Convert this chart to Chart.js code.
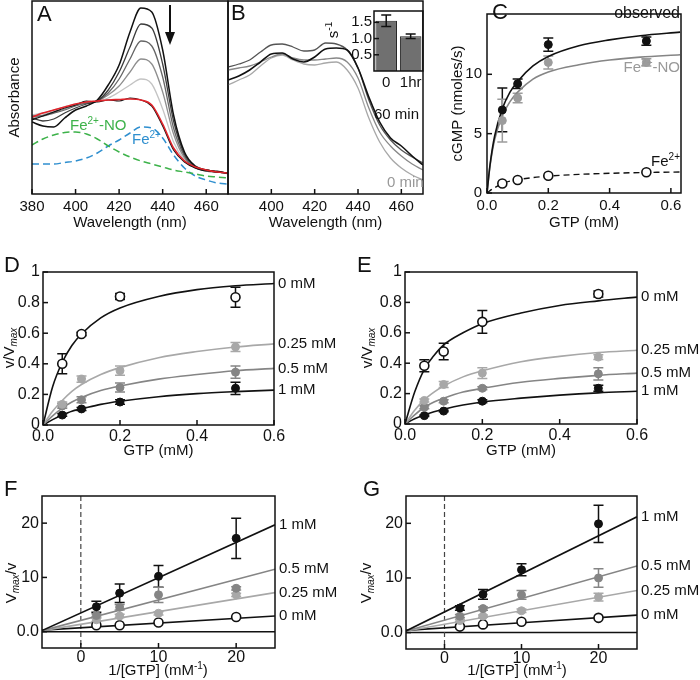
<!DOCTYPE html>
<html>
<head>
<meta charset="utf-8">
<title>sGC spectra and kinetics</title>
<script src="https://cdn.jsdelivr.net/npm/chart.js@4.4.1/dist/chart.umd.min.js"></script>
<style>
  html, body { margin: 0; padding: 0; background: #fff; }
  #fig { position: relative; width: 700px; height: 680px; overflow: hidden; }
  #fig canvas { position: absolute; }
</style>
</head>
<body>
<div id="fig">
  <canvas id="panelA" width="230" height="235" style="left:0;top:0"></canvas>
  <canvas id="panelB" width="200" height="235" style="left:226px;top:0"></canvas>
  <canvas id="panelBInset" width="100" height="92" style="left:325px;top:0"></canvas>
  <canvas id="panelC" width="260" height="235" style="left:440px;top:0"></canvas>
  <canvas id="panelD" width="350" height="205" style="left:0;top:255px"></canvas>
  <canvas id="panelE" width="350" height="205" style="left:350px;top:255px"></canvas>
  <canvas id="panelF" width="350" height="202" style="left:0;top:478px"></canvas>
  <canvas id="panelG" width="350" height="202" style="left:350px;top:478px"></canvas>
</div>
<script>
// ---- data ----
const wavelengths = [380, 385, 390, 395, 400, 405, 410, 415, 420, 425, 430, 435, 440, 445, 450, 455, 460, 465, 470];

// panel A, absorbance (a.u.), time course after NO removal
const absT0 = [72, 68, 67, 76, 84, 88, 94, 109, 129, 162, 186, 182, 144, 79, 42, 28, 24, 22, 21];
const absT1 = [76, 73, 75, 81, 86, 90, 93, 104, 122, 147, 170, 166, 130, 73, 40, 27, 24, 22, 21];
const absT2 = [78, 78, 81, 84, 88, 91, 93, 101, 115, 135, 153, 148, 117, 66, 38, 26, 24, 22, 21];
const absT3 = [75, 79, 82, 85, 89, 91, 93, 99, 108, 122, 135, 130, 102, 60, 36, 26, 23, 22, 21];
const absT4 = [79, 81, 84, 87, 90, 92, 93, 96, 102, 109, 115, 110, 85, 52, 34, 26, 23, 22, 21];
const absEnd = [74, 78, 82, 86, 89, 93, 92, 94, 93, 96, 94, 88, 68, 44, 32, 26, 23, 23, 20];
const absFit = [77, 81, 84, 87, 90, 92, 93, 94, 94.5, 95, 94, 89, 70, 46, 33, 27, 24, 22, 21];
const absFeNO = [49, 55, 59, 61.5, 62, 60, 55, 48, 42, 37, 33, 30, 27, 24, 22, 20, 18, 17, 16];
const absFe2 = [30, 30, 30, 31.5, 33, 36, 41, 48, 54, 61, 67, 66, 56, 39, 26, 18, 14, 11, 10];

// panel B, 0 to 60 min
const specB60 = [114, 118, 124, 132, 140, 141, 135, 132, 137, 145, 146, 144, 126, 97, 72, 56, 48, 38, 29];
const specB40 = [127, 130, 134, 142, 149, 150, 147, 143, 144, 151, 150, 144, 126, 94, 69, 54, 44, 37, 31];
const specB20 = [124, 126, 128, 132, 137, 140, 136, 134, 134, 135, 136, 132, 116, 86, 62, 48, 38, 30, 24];
const specB0 = [109, 114, 119, 128, 136, 139, 134, 130, 129, 131, 132, 124, 106, 76, 52, 36, 26, 19, 14];

// inset of B
const insetLabels = ['0', '1hr'];
const insetRate = [1.55, 1.07];
const insetErr = [0.18, 0.07];

// panel C
const gtpC = [0.05, 0.1, 0.2, 0.52];
const obsC = [7.0, 9.2, 12.5, 12.8];
const obsErrC = [1.85, 0.4, 0.55, 0.35];
const noC = [6.1, 8.0, 11.0, 11.0];
const noErrC = [1.8, 0.4, 0.55, 0.3];
const fe2C = [0.8, 1.1, 1.45, 1.75];
const fitGtpC = [0, 0.01, 0.025, 0.05, 0.075, 0.1, 0.15, 0.2, 0.3, 0.4, 0.5, 0.63];
const obsFitC = [0, 2.4, 4.8, 7.1, 8.5, 9.4, 10.7, 11.5, 12.4, 12.9, 13.25, 13.55];
const noFitC = [0, 2.3, 4.5, 6.5, 7.7, 8.5, 9.6, 10.2, 10.8, 11.2, 11.45, 11.65];
const fe2FitC = [0, 0.2, 0.45, 0.8, 1.0, 1.12, 1.3, 1.42, 1.57, 1.66, 1.72, 1.77];

// panels D / E : v/Vmax vs GTP
const gtp = [0.05, 0.1, 0.2, 0.5];
const fitGtp = [0, 0.025, 0.05, 0.075, 0.1, 0.15, 0.2, 0.3, 0.4, 0.5, 0.6];
const inhibLabels = ['0 mM', '0.25 mM', '0.5 mM', '1 mM'];

const d0 = [0.40, 0.595, 0.84, 0.835], d0Err = [0.065, 0.012, 0.02, 0.065];
const d025 = [0.135, 0.30, 0.355, 0.51], d025Err = [0.015, 0.02, 0.03, 0.03];
const d05 = [0.125, 0.165, 0.245, 0.345], d05Err = [0.015, 0.02, 0.03, 0.04];
const d1 = [0.065, 0.105, 0.15, 0.24], d1Err = [0.008, 0.01, 0.015, 0.04];
const dFit0 = [0, 0.25, 0.41, 0.52, 0.595, 0.70, 0.765, 0.84, 0.885, 0.91, 0.925];
const dFit025 = [0, 0.09, 0.16, 0.22, 0.265, 0.33, 0.375, 0.44, 0.48, 0.51, 0.53];
const dFit05 = [0, 0.06, 0.11, 0.15, 0.18, 0.225, 0.255, 0.30, 0.33, 0.355, 0.37];
const dFit1 = [0, 0.035, 0.065, 0.09, 0.105, 0.135, 0.155, 0.185, 0.205, 0.218, 0.228];

const e0 = [0.383, 0.477, 0.672, 0.855], e0Err = [0.04, 0.055, 0.075, 0.02];
const e025 = [0.155, 0.26, 0.335, 0.44], e025Err = [0.01, 0.02, 0.035, 0.015];
const e05 = [0.11, 0.15, 0.235, 0.33], e05Err = [0.01, 0.01, 0.01, 0.04];
const e1 = [0.055, 0.085, 0.15, 0.235], e1Err = [0.005, 0.005, 0.01, 0.02];
const eFit0 = [0, 0.21, 0.36, 0.45, 0.52, 0.60, 0.66, 0.73, 0.78, 0.81, 0.835];
const eFit025 = [0, 0.09, 0.16, 0.21, 0.25, 0.31, 0.35, 0.41, 0.445, 0.47, 0.485];
const eFit05 = [0, 0.06, 0.11, 0.145, 0.17, 0.21, 0.235, 0.275, 0.30, 0.32, 0.335];
const eFit1 = [0, 0.035, 0.06, 0.08, 0.097, 0.125, 0.145, 0.17, 0.19, 0.205, 0.215];

// panels F / G : double reciprocal
const invGtp = [2, 5, 10, 20];
const lineInvGtp = [-5, 25];
const f1 = [4.6, 7.1, 10.2, 17.2], f1Err = [1.0, 1.7, 2.0, 3.7];
const f05 = [3.0, 4.5, 6.8, 8.0], f05Err = [0.3, 0.5, 1.4, 0.3];
const f025 = [2.2, 2.9, 3.4, 6.8], f025Err = [0.3, 0.3, 0.3, 0.3];
const f0 = [1.2, 1.2, 1.7, 2.7];
const fLine1 = [0.2, 19.7], fLine05 = [0.2, 11.5], fLine025 = [0.2, 7.2], fLine0 = [0.3, 2.9];

const g1 = [4.5, 7.0, 11.5, 19.9], g1Err = [0.4, 0.9, 1.1, 3.4];
const g05 = [3.0, 4.4, 6.9, 10.0], g05Err = [0.3, 0.3, 0.8, 1.7];
const g025 = [2.2, 3.0, 4.0, 6.5], g025Err = [0.2, 0.2, 0.3, 0.7];
const g0 = [1.1, 1.5, 2.0, 2.7];
const gLine1 = [0.3, 21.2], gLine05 = [0.3, 12.2], gLine025 = [0.3, 7.7], gLine0 = [0.4, 3.2];

// ---- styling helpers ----
const FONT = "'Liberation Sans', Arial, Helvetica, sans-serif";
const INK = '#111';
const GRAY_L = '#a8a8a8';
const GRAY_M = '#858585';
Chart.defaults.font.family = FONT;
Chart.defaults.color = INK;

const pts = (xs, ys) => xs.map((x, i) => ({ x, y: ys[i] }));

function curve(xs, ys, color, width, extra) {
  return Object.assign({
    data: pts(xs, ys), showLine: true, pointRadius: 0, borderColor: color,
    borderWidth: width || 1.4, cubicInterpolationMode: 'monotone', fill: false
  }, extra || {});
}

function markers(xs, ys, errs, color, open) {
  return {
    data: pts(xs, ys), showLine: false, pointRadius: open ? 4.5 : 4,
    pointBackgroundColor: open ? '#fff' : color, pointBorderColor: open ? INK : color,
    pointBorderWidth: open ? 1.6 : 1, errors: errs, errorColor: open ? INK : color
  };
}

function axis(min, max, ticks, size, fmt, o) {
  o = o || {};
  return {
    type: 'linear', min, max,
    afterBuildTicks: s => { s.ticks = ticks.map(v => ({ value: v })); },
    afterFit: s => { if (s.isHorizontal()) s.height = size; else s.width = size; },
    grid: { display: false, drawTicks: false },
    border: { display: false },
    ticks: { padding: o.pad ?? 4, font: { size: o.fs || 15 }, color: INK, maxRotation: 0, autoSkip: false, callback: v => fmt(v) },
    title: o.title ? { display: true, text: o.title, color: INK, font: { size: o.tfs || 15 }, padding: o.tpad || 0 } : { display: false }
  };
}

function options(padding, x, y, frame) {
  return {
    responsive: false, animation: false, devicePixelRatio: 1, events: [],
    layout: { padding },
    scales: { x, y },
    plugins: { legend: { display: false }, tooltip: { enabled: false }, frame: frame || {} }
  };
}

// box around the plot area with inward tick marks
Chart.register({
  id: 'frame',
  afterDatasetsDraw(chart, args, o) {
    const { ctx, chartArea: a } = chart;
    ctx.save();
    ctx.strokeStyle = INK;
    ctx.lineWidth = 1.5;
    ctx.strokeRect(a.left, a.top, a.right - a.left, a.bottom - a.top);
    ['x', 'y'].forEach(id => {
      const sc = chart.scales[id];
      if (!sc || (id === 'x' && o.noXMarks)) return;
      sc.ticks.forEach(t => {
        const p = sc.getPixelForValue(t.value);
        ctx.beginPath();
        if (id === 'x') { ctx.moveTo(p, a.bottom); ctx.lineTo(p, a.bottom - 5); }
        else { ctx.moveTo(a.left, p); ctx.lineTo(a.left + 5, p); }
        ctx.stroke();
      });
    });
    ctx.restore();
  }
});

// vertical error bars from dataset.errors
function drawErrors(chart, onTop) {
  const ctx = chart.ctx;
  chart.data.datasets.forEach((ds, i) => {
    if (!ds.errors || !!ds.errorsOnTop !== onTop) return;
    const meta = chart.getDatasetMeta(i);
    const ys = chart.scales[meta.yAxisID];
    ctx.save();
    ctx.strokeStyle = ds.errorColor || INK;
    ctx.lineWidth = 1.5;
    meta.data.forEach((el, j) => {
      const e = ds.errors[j];
      if (!e) return;
      const raw = ds.data[j];
      const v = typeof raw === 'object' ? raw.y : raw;
      const top = ys.getPixelForValue(v + e), bot = ys.getPixelForValue(v - e);
      ctx.beginPath();
      ctx.moveTo(el.x, top); ctx.lineTo(el.x, bot);
      ctx.moveTo(el.x - 5, top); ctx.lineTo(el.x + 5, top);
      ctx.moveTo(el.x - 5, bot); ctx.lineTo(el.x + 5, bot);
      ctx.stroke();
    });
    ctx.restore();
  });
}
Chart.register({
  id: 'errbars',
  beforeDatasetsDraw(chart) { drawErrors(chart, false); },
  afterDatasetsDraw(chart) { drawErrors(chart, true); }
});

// series labels at the right end of a fit line
Chart.register({
  id: 'endLabels',
  afterDraw(chart) {
    const { ctx, chartArea: a } = chart;
    chart.data.datasets.forEach((ds, i) => {
      if (!ds.endLabel) return;
      const last = ds.data[ds.data.length - 1];
      const y = chart.scales[chart.getDatasetMeta(i).yAxisID].getPixelForValue(last.y);
      ctx.save();
      ctx.font = '15px ' + FONT;
      ctx.fillStyle = INK;
      ctx.textAlign = 'left';
      ctx.textBaseline = 'middle';
      ctx.fillText(ds.endLabel, a.right + 4, y);
      ctx.restore();
    });
  }
});

function drawRich(ctx, it) {
  const size = it.size || 15;
  const segs = it.segs || [{ t: it.text }];
  const parts = segs.map(s => {
    const small = s.sup || s.sub;
    const font = (s.it ? 'italic ' : '') + (small ? Math.round(size * 0.65) : size) + 'px ' + FONT;
    ctx.font = font;
    return { t: s.t, font, w: ctx.measureText(s.t).width, dy: s.sup ? -size * 0.33 : s.sub ? size * 0.3 : 0 };
  });
  const total = parts.reduce((acc, p) => acc + p.w, 0);
  let x = it.align === 'center' ? -total / 2 : it.align === 'right' ? -total : 0;
  ctx.fillStyle = it.color || INK;
  ctx.textAlign = 'left';
  ctx.textBaseline = 'middle';
  parts.forEach(p => { ctx.font = p.font; ctx.fillText(p.t, x, p.dy); x += p.w; });
}

function notes(items) {
  return {
    id: 'notes',
    afterDraw(chart) {
      const ctx = chart.ctx;
      items.forEach(it => {
        ctx.save();
        if (it.arrow) {
          ctx.strokeStyle = INK; ctx.fillStyle = INK; ctx.lineWidth = 2;
          ctx.beginPath(); ctx.moveTo(it.px, it.py); ctx.lineTo(it.px, it.py2 - 8); ctx.stroke();
          ctx.beginPath();
          ctx.moveTo(it.px - 5, it.py2 - 13); ctx.lineTo(it.px + 5, it.py2 - 13); ctx.lineTo(it.px, it.py2);
          ctx.closePath(); ctx.fill();
        } else {
          ctx.translate(it.px, it.py);
          if (it.rot) ctx.rotate(it.rot * Math.PI / 180);
          drawRich(ctx, it);
        }
        ctx.restore();
      });
    }
  };
}

function zeroLines() {
  return {
    id: 'zeroLines',
    beforeDatasetsDraw(chart) {
      const { ctx, chartArea: a, scales } = chart;
      const x0 = scales.x.getPixelForValue(0), y0 = scales.y.getPixelForValue(0);
      ctx.save();
      ctx.strokeStyle = INK; ctx.lineWidth = 1.5;
      ctx.beginPath(); ctx.moveTo(a.left, y0); ctx.lineTo(a.right, y0); ctx.stroke();
      ctx.strokeStyle = '#444'; ctx.lineWidth = 1.2; ctx.setLineDash([5, 3]);
      ctx.beginPath(); ctx.moveTo(x0, a.top); ctx.lineTo(x0, a.bottom); ctx.stroke();
      ctx.restore();
    }
  };
}

const fmt1 = v => v.toFixed(1);
const fmtInt = v => String(v);
const fmtFrac = v => (v === 0 || v === 1) ? String(v) : v.toFixed(1);
const fmtRecip = v => v === 0 ? '0.0' : String(v);
const fe2Segs = [{ t: 'Fe' }, { t: '2+', sup: true }];
const feNOSegs = [{ t: 'Fe' }, { t: '2+', sup: true }, { t: '-NO' }];

// ---- A ----
new Chart(document.getElementById('panelA'), {
  type: 'scatter',
  data: { datasets: [
    curve(wavelengths, absFit, '#e2232a', 1.6),
    curve(wavelengths, absEnd, INK, 1.2),
    curve(wavelengths, absT0, INK, 1.5),
    curve(wavelengths, absT1, '#3c3c3c', 1.3),
    curve(wavelengths, absT2, '#666', 1.3),
    curve(wavelengths, absT3, '#8e8e8e', 1.3),
    curve(wavelengths, absT4, '#c4c4c4', 1.3),
    curve(wavelengths, absFeNO, '#3db24a', 1.5, { borderDash: [7, 4] }),
    curve(wavelengths, absFe2, '#2f8fcf', 1.5, { borderDash: [7, 4] })
  ] },
  options: options({ top: 1, right: 2, left: 0, bottom: 0 },
    axis(380, 470, [380, 400, 420, 440, 460], 41, fmtInt, { title: 'Wavelength (nm)', pad: 4, tpad: { bottom: 3 } }),
    axis(0, 193, [], 32, fmtInt, { title: 'Absorbance', tpad: { top: 6 } })),
  plugins: [notes([
    { px: 37, py: 15, size: 22, text: 'A' },
    { px: 70, py: 126, segs: feNOSegs, color: '#3db24a' },
    { px: 132, py: 140, segs: fe2Segs, color: '#2f8fcf' },
    { arrow: true, px: 170, py: 5, py2: 45 }
  ])]
});

// ---- B ----
new Chart(document.getElementById('panelB'), {
  type: 'scatter',
  data: { datasets: [
    curve(wavelengths, specB60, INK, 1.6),
    curve(wavelengths, specB40, '#555', 1.3),
    curve(wavelengths, specB20, '#888', 1.3),
    curve(wavelengths, specB0, '#a8a8a8', 1.3)
  ] },
  options: options({ top: 1, right: 3, left: 2, bottom: 0 },
    axis(380, 470, [400, 420, 440, 460], 41, fmtInt, { title: 'Wavelength (nm)', pad: 4, tpad: { bottom: 3 } }),
    Object.assign(axis(0, 193, [], 0, fmtInt), { display: false })),
  plugins: [notes([
    { px: 5, py: 14, size: 22, text: 'B' },
    { px: 148, py: 115, text: '60 min', size: 15 },
    { px: 161, py: 183, text: '0 min', size: 15, color: '#999' }
  ])]
});

// ---- B inset ----
new Chart(document.getElementById('panelBInset'), {
  type: 'bar',
  data: { labels: insetLabels, datasets: [{
    data: insetRate, errors: insetErr, errorsOnTop: true, errorColor: INK,
    backgroundColor: '#707070', borderColor: '#222', borderWidth: 1,
    barPercentage: 0.88, categoryPercentage: 1
  }] },
  options: options({ top: 1, right: 2, left: 0, bottom: 0 },
    { type: 'category', afterFit: s => { s.height = 21; }, grid: { display: false, drawTicks: false }, border: { display: false },
      ticks: { padding: 3, font: { size: 15 }, color: INK, maxRotation: 0, minRotation: 0, autoSkip: false } },
    axis(0, 1.85, [0.5, 1.0, 1.5], 49, fmt1, { pad: 2 }),
    { noXMarks: true }),
  plugins: [notes([
    { px: 9, py: 30, rot: -90, align: 'center', segs: [{ t: 's' }, { t: '-1', sup: true }] }
  ])]
});

// ---- C ----
new Chart(document.getElementById('panelC'), {
  type: 'scatter',
  data: { datasets: [
    markers(gtpC, obsC, obsErrC, INK, false),
    markers(gtpC, noC, noErrC, '#9c9c9c', false),
    markers(gtpC, fe2C, null, INK, true),
    curve(fitGtpC, obsFitC, INK, 1.6),
    curve(fitGtpC, noFitC, GRAY_M, 1.6),
    curve(fitGtpC, fe2FitC, INK, 1.4, { borderDash: [6, 4] })
  ] },
  options: options({ top: 1, right: 19, left: 0, bottom: 0 },
    axis(0, 0.633, [0, 0.2, 0.4, 0.6], 42, fmt1, { title: 'GTP (mM)', pad: 4, tpad: { bottom: 3 } }),
    axis(0, 15.08, [0, 5, 10], 47, fmtInt, { title: 'cGMP (nmoles/s)', pad: 5, tpad: { top: 9 } })),
  plugins: [notes([
    { px: 52, py: 13, size: 22, text: 'C' },
    { px: 240, py: 14, size: 16, text: 'observed', align: 'right' },
    { px: 240, py: 68, segs: feNOSegs, color: '#999', align: 'right' },
    { px: 240, py: 162, segs: fe2Segs, align: 'right' }
  ])]
});

// ---- D / E ----
function mmPanel(id, letter, pts4, fits, yTitleX, leftW, xH, rightPad) {
  const [p0, p025, p05, p1] = pts4;
  const [c0, c025, c05, c1] = fits;
  new Chart(document.getElementById(id), {
    type: 'scatter',
    data: { datasets: [
      markers(gtp, p0[0], p0[1], INK, true),
      markers(gtp, p025[0], p025[1], GRAY_L, false),
      markers(gtp, p05[0], p05[1], GRAY_M, false),
      markers(gtp, p1[0], p1[1], INK, false),
      curve(fitGtp, c0, INK, 1.6, { endLabel: inhibLabels[0] }),
      curve(fitGtp, c025, GRAY_L, 1.6, { endLabel: inhibLabels[1] }),
      curve(fitGtp, c05, GRAY_M, 1.6, { endLabel: inhibLabels[2] }),
      curve(fitGtp, c1, INK, 1.6, { endLabel: inhibLabels[3] })
    ] },
    options: options({ top: 17, right: rightPad, left: 0, bottom: 0 },
      axis(0, 0.6, [0, 0.2, 0.4, 0.6], xH, fmt1, { title: 'GTP (mM)', pad: 2, fs: 16, tfs: 15 }),
      axis(0, 1, [0, 0.2, 0.4, 0.6, 0.8, 1], leftW, fmtFrac, { pad: 3, fs: 16 })),
    plugins: [notes([
      { px: letter[1], py: 11, size: 22, text: letter[0] },
      { px: yTitleX, py: 93, rot: -90, align: 'center', segs: [{ t: 'v/V' }, { t: 'max', sub: true, it: true }] }
    ])]
  });
}
mmPanel('panelD', ['D', 4], [[d0, d0Err], [d025, d025Err], [d05, d05Err], [d1, d1Err]],
  [dFit0, dFit025, dFit05, dFit1], 10, 43, 35, 76);
mmPanel('panelE', ['E', 7], [[e0, e0Err], [e025, e025Err], [e05, e05Err], [e1, e1Err]],
  [eFit0, eFit025, eFit05, eFit1], 18, 55, 36, 63);

// ---- F / G ----
function lbPanel(id, letter, sets, lines, yTitleX, xTitleX, leftW, xH, rightPad) {
  const [p1, p05, p025, p0] = sets;
  const [l1, l05, l025, l0] = lines;
  new Chart(document.getElementById(id), {
    type: 'scatter',
    data: { datasets: [
      markers(invGtp, p1[0], p1[1], INK, false),
      markers(invGtp, p05[0], p05[1], GRAY_M, false),
      markers(invGtp, p025[0], p025[1], GRAY_L, false),
      markers(invGtp, p0, null, INK, true),
      curve(lineInvGtp, l1, INK, 1.6, { endLabel: inhibLabels[3] }),
      curve(lineInvGtp, l05, GRAY_M, 1.6, { endLabel: inhibLabels[2] }),
      curve(lineInvGtp, l025, GRAY_L, 1.6, { endLabel: inhibLabels[1] }),
      curve(lineInvGtp, l0, INK, 1.6, { endLabel: inhibLabels[0] })
    ] },
    options: options({ top: 18, right: rightPad, left: 0, bottom: 0 },
      axis(-5, 25, [0, 10, 20], xH, fmtInt, { pad: 0, fs: 16 }),
      axis(-3, 25, [0, 10, 20], leftW, fmtRecip, { pad: 3, fs: 16 })),
    plugins: [zeroLines(), notes([
      { px: letter[1], py: 12, size: 22, text: letter[0] },
      { px: yTitleX, py: 105, rot: -90, align: 'center', segs: [{ t: 'V' }, { t: 'max', sub: true, it: true }, { t: '/v' }] },
      { px: xTitleX, py: 193, align: 'center', segs: [{ t: '1/[GTP] (mM' }, { t: '-1', sup: true }, { t: ')' }] }
    ])]
  });
}
lbPanel('panelF', ['F', 4], [[f1, f1Err], [f05, f05Err], [f025, f025Err], f0],
  [fLine1, fLine05, fLine025, fLine0], 12, 158, 42, 32, 75);
lbPanel('panelG', ['G', 13], [[g1, g1Err], [g05, g05Err], [g025, g025Err], g0],
  [gLine1, gLine05, gLine025, gLine0], 17, 167, 56, 31, 63);
</script>
</body>
</html>
